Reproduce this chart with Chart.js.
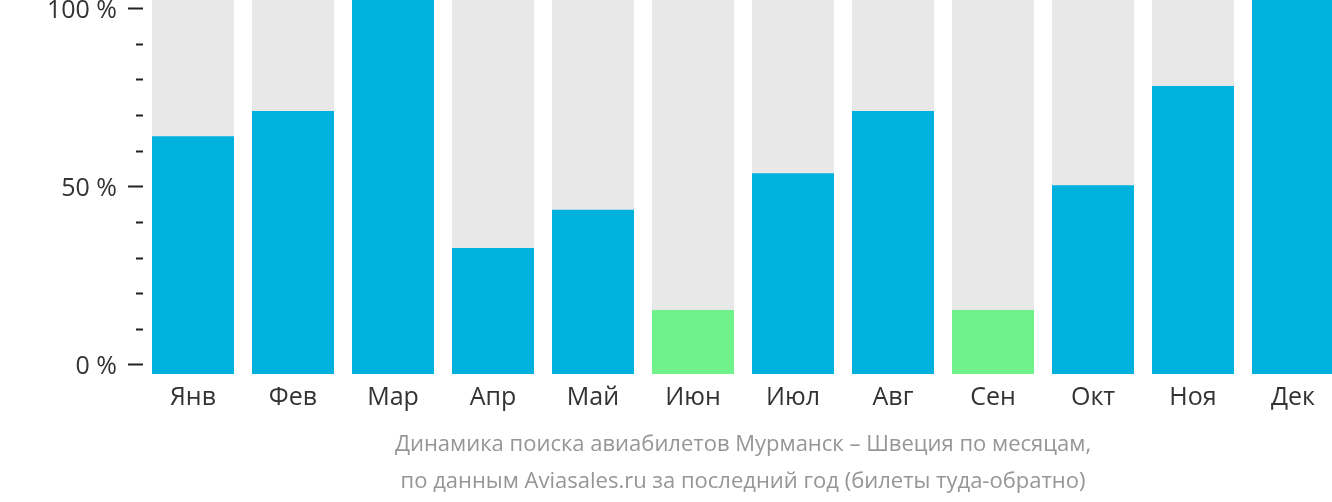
<!DOCTYPE html>
<html>
<head>
<meta charset="utf-8">
<script src="https://cdn.jsdelivr.net/npm/chart.js@4"></script>
<style>
  html, body { margin: 0; padding: 0; background: #fff; overflow: hidden; }
  #wrap { position: absolute; left: 0; top: 0; width: 1343px; height: 502px; }
</style>
</head>
<body>
<div id="wrap"><canvas id="chart"></canvas></div>
<script>
// Данные
const months = ["Янв", "Фев", "Мар", "Апр", "Май", "Июн", "Июл", "Авг", "Сен", "Окт", "Ноя", "Дек"];
const searchShare = [63.6, 70.3, 100, 33.7, 43.9, 17.1, 53.7, 70.3, 17.1, 50.5, 77.0, 100];
const trackValues = [100, 100, 100, 100, 100, 100, 100, 100, 100, 100, 100, 100];
const cheapMonths = ["Июн", "Сен"];
const yTickValues = [0, 10, 20, 30, 40, 50, 60, 70, 80, 90, 100];
const yLabelValues = [0, 50, 100];
const titleLines = [
  "Динамика поиска авиабилетов Мурманск – Швеция по месяцам,",
  "по данным Aviasales.ru за последний год (билеты туда-обратно)"
];

const blue = "#00b1dd";
const green = "#6ff28a";
const grey = "#e8e8e8";

new Chart(document.getElementById("chart").getContext("2d"), {
  type: "bar",
  data: {
    labels: months,
    datasets: [
      {
        data: searchShare,
        backgroundColor: months.map(m => cheapMonths.includes(m) ? green : blue),
        grouped: false,
        order: 0,
        yAxisID: "y"
      },
      {
        data: trackValues,
        backgroundColor: grey,
        grouped: false,
        order: 1,
        yAxisID: "y"
      }
    ]
  },
  options: {
    responsive: true,
    maintainAspectRatio: false,
    animation: false,
    layout: { padding: 0, autoPadding: false },
    barPercentage: 0.82,
    categoryPercentage: 1,
    plugins: {
      legend: { display: false },
      tooltip: { enabled: false },
      title: {
        display: true,
        position: "bottom",
        fullSize: false,
        text: titleLines,
        color: "#969696",
        font: { family: "Open Sans", size: 22, weight: "normal", lineHeight: "37px" },
        padding: { top: 2, bottom: 2 }
      }
    },
    scales: {
      x: {
        grid: { display: false, drawTicks: false },
        border: { display: false },
        ticks: {
          color: "#333333",
          padding: 9,
          font: { family: "Open Sans", size: 25 }
        },
        afterFit: (scale) => {
          scale.height = 50;
          scale.paddingLeft = 0;
          scale.paddingRight = 0;
        }
      },
      y: {
        display: false,
        min: 0,
        max: 100
      },
      yt: {
        position: "left",
        min: -2.53,
        max: 102.44,
        border: { display: false },
        afterBuildTicks: (scale) => {
          scale.ticks = yTickValues.map(v => ({ value: v }));
        },
        afterFit: (scale) => {
          scale.width = 143;
          scale.paddingTop = 0;
          scale.paddingBottom = 0;
        },
        grid: {
          drawOnChartArea: false,
          drawTicks: true,
          tickLength: 15,
          tickWidth: 2,
          tickColor: "#222222",
          tickBorderDash: (ctx) => yLabelValues.includes(ctx.tick.value) ? [] : [0, 8, 7, 0]
        },
        ticks: {
          color: "#333333",
          padding: 11,
          labelOffset: 2,
          autoSkip: false,
          font: { family: "Open Sans", size: 25 },
          callback: (v) => yLabelValues.includes(v) ? v + " %" : ""
        }
      }
    }
  }
});
</script>
</body>
</html>
